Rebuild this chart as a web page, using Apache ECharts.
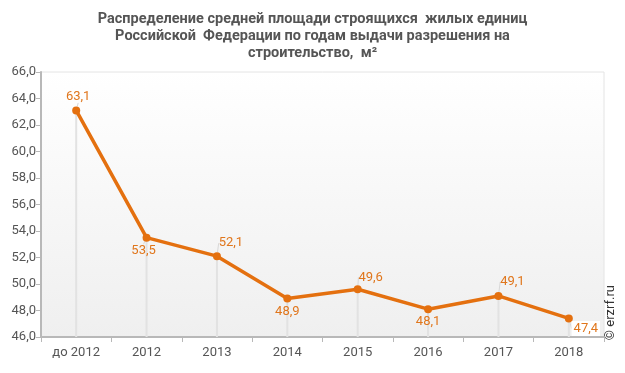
<!DOCTYPE html>
<html><head><meta charset="utf-8">
<script src="https://cdn.jsdelivr.net/npm/echarts@6/dist/echarts.min.js"></script>
<style>html,body{margin:0;padding:0;background:#fff}#c{width:625px;height:373px}</style>
</head><body><div id="c"></div>
<script>
var categories = ['до 2012','2012','2013','2014','2015','2016','2017','2018'];
var values = [63.1, 53.5, 52.1, 48.9, 49.6, 48.1, 49.1, 47.4];
var titleText = 'Распределение средней площади строящихся  жилых единиц\nРоссийской  Федерации по годам выдачи разрешения на\nстроительство,  м²';
// label placement per point: [dx, dy]
var labelShift = [[2,-14],[-3,13],[14,-13],[0,13],[13,-12],[0,13],[14,-14],[17,10]];

var fmt = function(v){ return v.toFixed(1).replace('.', ','); };
var chart = echarts.init(document.getElementById('c'), null, {renderer:'canvas'});
var orange = '#e4700f';
chart.setOption({
  animation:false,
  textStyle:{fontFamily:'Roboto'},
  title:{text:titleText,left:'center',top:6,textStyle:{fontFamily:'Roboto',fontSize:14.5,fontWeight:'bold',color:'#555555',lineHeight:17}},
  grid:{left:41,right:21,top:72,bottom:36,show:true,borderWidth:1,borderColor:'#e4e4e4',
    backgroundColor:new echarts.graphic.LinearGradient(0,0,0,1,[{offset:0,color:'#ffffff'},{offset:1,color:'#efefef'}])},
  xAxis:{type:'category',data:categories,boundaryGap:true,
    axisLine:{lineStyle:{color:'#b8b8b8',width:2}},
    axisTick:{show:true,length:5,lineStyle:{color:'#b8b8b8'}},
    axisLabel:{color:'#555',fontSize:13,margin:9}},
  yAxis:{type:'value',min:46,max:66,interval:2,
    axisLine:{show:true,lineStyle:{color:'#b8b8b8',width:2}},
    axisTick:{show:true,length:5,inside:false,lineStyle:{color:'#b8b8b8'}},
    splitLine:{show:false},
    axisLabel:{color:'#555',fontSize:13,margin:5,formatter:function(v){return fmt(v);}}},
  series:[
    {type:'bar',data:values,barWidth:2,itemStyle:{color:'#e2e2e2'},silent:true,z:1},
    {type:'line',z:3,symbol:'circle',symbolSize:8,
      lineStyle:{color:orange,width:3.5},itemStyle:{color:orange},
      label:{show:true,position:'inside',color:'#e0761c',fontSize:13,
        formatter:function(p){return fmt(p.value);}},
      labelLine:{show:true,lineStyle:{color:'#d8d8d8',width:1}},
      labelLayout:function(p){var s=labelShift[p.dataIndex];return {dx:s[0],dy:s[1]};},
      data:values.map(function(v,i){
        var o={value:v};
        if(i===values.length-1){o.label={backgroundColor:'#fff',padding:[1,2]};}
        return o;})
    }
  ],
  graphic:[{type:'text',left:604,top:285,rotation:Math.PI/2,
    style:{text:'© erzrf.ru',fill:'#333',font:'13px Roboto'}}]
});
</script></body></html>
